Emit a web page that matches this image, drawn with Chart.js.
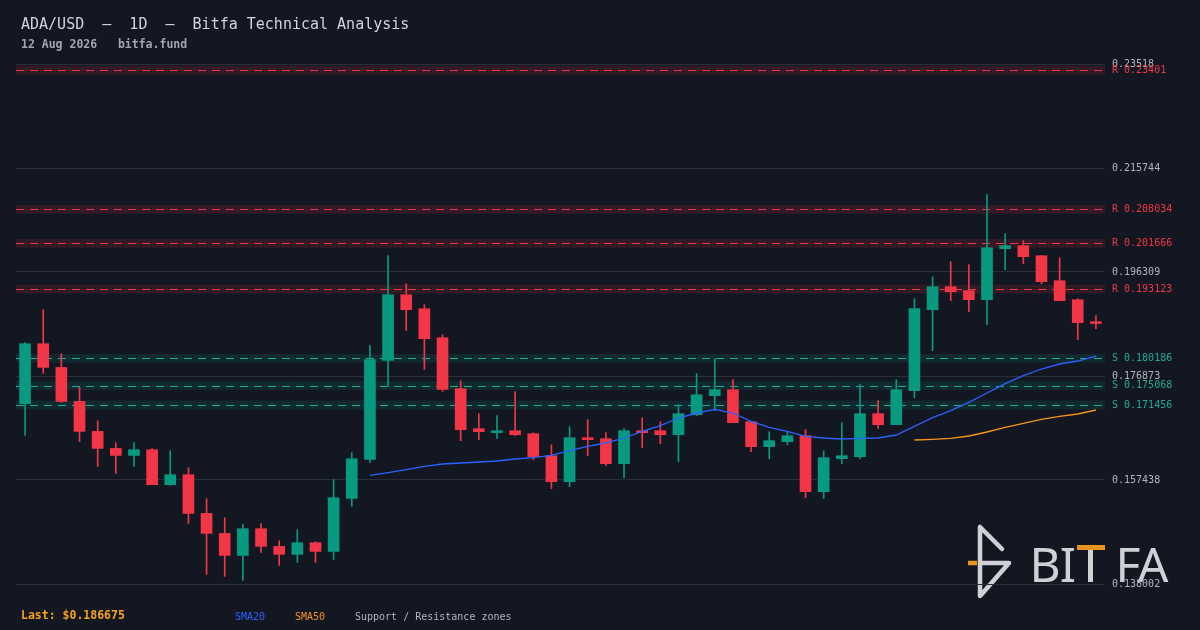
<!DOCTYPE html>
<html>
<head>
<meta charset="utf-8">
<script src="https://cdn.jsdelivr.net/npm/chart.js@4.4.1/dist/chart.umd.min.js"></script>
<style>
  body { margin: 0; background: #131722; }
  #wrap { position: relative; width: 1200px; height: 630px; overflow: hidden; }
  #chart { position: absolute; left: 0; top: 0; }
  .txt { position: absolute; font-family: "DejaVu Sans Mono", monospace; white-space: pre; }
  .title { left: 21px; top: 15px; font-size: 15px; line-height: 18px; color: #d1d4dc; }
  .sub { left: 21px; top: 37px; font-size: 11.5px; line-height: 14px; color: #a3a6af; font-weight: bold; }
  .last { left: 21px; top: 608px; font-size: 11.5px; line-height: 14px; color: #f7a21b; font-weight: bold; }
  .leg { top: 611px; font-size: 10px; line-height: 12px; }
</style>
</head>
<body>
<div id="wrap">
  <canvas id="chart" width="1200" height="630"></canvas>
  <div class="txt title">ADA/USD  –  1D  –  Bitfa Technical Analysis</div>
  <div class="txt sub">12 Aug 2026   bitfa.fund</div>
  <div class="txt last" id="last"></div>
  <div class="txt leg" style="left:235px;color:#2962ff">SMA20</div>
  <div class="txt leg" style="left:295px;color:#f7931a">SMA50</div>
  <div class="txt leg" style="left:355px;color:#b2b5be">Support / Resistance zones</div>
</div>
<script>
// daily candles, 14 Jun -> 12 Aug 2026
const dates = [
  "06-14","06-15","06-16","06-17","06-18","06-19","06-20","06-21","06-22","06-23",
  "06-24","06-25","06-26","06-27","06-28","06-29","06-30","07-01","07-02","07-03",
  "07-04","07-05","07-06","07-07","07-08","07-09","07-10","07-11","07-12","07-13",
  "07-14","07-15","07-16","07-17","07-18","07-19","07-20","07-21","07-22","07-23",
  "07-24","07-25","07-26","07-27","07-28","07-29","07-30","07-31","08-01","08-02",
  "08-03","08-04","08-05","08-06","08-07","08-08","08-09","08-10","08-11","08-12"
];

const opens = [
  0.171696, 0.182909, 0.178480, 0.172126, 0.166520, 0.163343, 0.162035, 0.163100, 0.156559, 0.158428,
  0.151196, 0.147458, 0.143347, 0.148336, 0.145029, 0.143534, 0.145720, 0.144095, 0.153999, 0.161287,
  0.179788, 0.192066, 0.189450, 0.184031, 0.174500, 0.167024, 0.166277, 0.166651, 0.166090, 0.161979,
  0.157120, 0.165343, 0.165156, 0.160484, 0.166651, 0.166651, 0.165903, 0.169641, 0.173192, 0.174313,
  0.168333, 0.163661, 0.164595, 0.165716, 0.155251, 0.161418, 0.161792, 0.169828, 0.167772, 0.174126,
  0.189263, 0.193561, 0.192814, 0.191132, 0.200663, 0.201224, 0.199355, 0.194683, 0.191132, 0.187021
];
const highs = [
  0.183096, 0.189263, 0.181040, 0.174743, 0.168519, 0.164408, 0.164408, 0.163287, 0.162913, 0.159736,
  0.153943, 0.150392, 0.149084, 0.149271, 0.146094, 0.148150, 0.145907, 0.157494, 0.162539, 0.182536,
  0.199355, 0.194122, 0.190198, 0.184591, 0.175995, 0.169828, 0.169454, 0.173939, 0.166277, 0.164034,
  0.167398, 0.168706, 0.166277, 0.167024, 0.169080, 0.168333, 0.171510, 0.177303, 0.180106, 0.176182,
  0.168333, 0.166464, 0.166464, 0.166838, 0.162913, 0.168146, 0.175247, 0.172257, 0.176182, 0.191319,
  0.195430, 0.198233, 0.197673, 0.210754, 0.203466, 0.202158, 0.199355, 0.198981, 0.191319, 0.188142
];
const lows = [
  0.165772, 0.177359, 0.171939, 0.164651, 0.159979, 0.158671, 0.159979, 0.156559, 0.156428, 0.149327,
  0.139797, 0.139423, 0.138675, 0.143908, 0.141478, 0.142039, 0.142039, 0.142600, 0.152504, 0.160727,
  0.174930, 0.185395, 0.178107, 0.173995, 0.164782, 0.164969, 0.165156, 0.165716, 0.161231, 0.155812,
  0.156185, 0.161979, 0.160110, 0.157867, 0.163474, 0.164221, 0.160857, 0.169454, 0.170388, 0.168146,
  0.162726, 0.161418, 0.164034, 0.154130, 0.153943, 0.160484, 0.161418, 0.167024, 0.167772, 0.172818,
  0.181601, 0.190945, 0.188889, 0.186460, 0.196738, 0.197860, 0.194122, 0.190945, 0.183657, 0.185712
];
const closes = [
  0.182909, 0.178480, 0.172126, 0.166520, 0.163343, 0.162035, 0.163100, 0.156559, 0.158428, 0.151196,
  0.147458, 0.143347, 0.148336, 0.145029, 0.143534, 0.145720, 0.144095, 0.154130, 0.161418, 0.179919,
  0.192066, 0.189263, 0.183844, 0.174369, 0.166838, 0.166464, 0.166651, 0.165903, 0.161792, 0.157120,
  0.165343, 0.164969, 0.160484, 0.166651, 0.166277, 0.165903, 0.169828, 0.173378, 0.174313, 0.168146,
  0.163661, 0.164782, 0.165716, 0.155251, 0.161605, 0.161979, 0.169828, 0.167772, 0.174313, 0.189450,
  0.193561, 0.192627, 0.191132, 0.200850, 0.201224, 0.199168, 0.194496, 0.190945, 0.186834, 0.186675
];

// moving averages as drawn (first value sits on candle sma20Start / sma50Start)
const sma20Start = 19;
const sma20 = [
  0.158297, 0.158802, 0.159362, 0.159979, 0.160427, 0.160614, 0.160801, 0.160988, 0.161362, 0.161605,
  0.162035, 0.162913, 0.163717, 0.164352, 0.165286, 0.166520, 0.167585, 0.169023, 0.169958, 0.170631,
  0.169958, 0.168388, 0.167267, 0.166520, 0.165585, 0.165286, 0.165100, 0.165212, 0.165286, 0.165847,
  0.167454, 0.169080, 0.170388, 0.171939, 0.173696, 0.175434, 0.176929, 0.178181, 0.179115, 0.179676,
  0.180610
];
const sma50Start = 49;
const sma50 = [
  0.164913, 0.165025, 0.165212, 0.165660, 0.166408, 0.167267, 0.168015, 0.168762, 0.169323, 0.169771,
  0.170519
];

const resistance = [0.23401, 0.208034, 0.201666, 0.193123];
const support = [0.180186, 0.175068, 0.171456];
const ZONE_PAD = 0.00082;

const yTicks = [0.138002, 0.157438, 0.176873, 0.196309, 0.215744, 0.23518];

const UP = "#089981";
const DOWN = "#f23645";
const candleColors = closes.map((c, i) => (c >= opens[i] ? UP : DOWN));

document.getElementById("last").textContent = "Last: $" + closes[closes.length - 1].toFixed(6);

Chart.defaults.font.family = "'DejaVu Sans Mono', monospace";

const overlay = {
  id: "overlay",
  beforeDraw(chart) {
    const ctx = chart.ctx;
    ctx.save();
    ctx.fillStyle = "#131722";
    ctx.fillRect(0, 0, chart.width, chart.height);

    // watermark logo
    ctx.strokeStyle = "#cfd1d6";
    ctx.lineWidth = 4.5;
    ctx.lineCap = "round";
    ctx.lineJoin = "round";
    ctx.beginPath();
    ctx.moveTo(980, 527); ctx.lineTo(980, 596);
    ctx.moveTo(980, 527); ctx.lineTo(1002, 549);
    ctx.moveTo(980, 563); ctx.lineTo(1009, 563); ctx.lineTo(981, 595);
    ctx.stroke();
    ctx.strokeStyle = "#e8931c";
    ctx.lineCap = "butt";
    ctx.beginPath();
    ctx.moveTo(968, 563); ctx.lineTo(977, 563);
    ctx.stroke();

    ctx.fillStyle = "#cfd1d6";
    ctx.font = "48px 'Noto Sans'";
    ctx.textAlign = "center";
    ctx.textBaseline = "alphabetic";
    ctx.fillText("B", 1045, 582);
    ctx.fillText("I", 1068, 582);
    ctx.fillText("F", 1128, 582);
    ctx.fillText("A", 1153, 582);
    ctx.fillRect(1088, 550, 5, 32);
    ctx.fillStyle = "#e8931c";
    ctx.fillRect(1077, 545, 28, 5);
    ctx.restore();
  },
  beforeDatasetsDraw(chart) {
    const { ctx, chartArea, scales } = chart;
    const y = scales.y;
    ctx.save();
    ctx.beginPath();
    ctx.rect(chartArea.left, chartArea.top, chartArea.right - chartArea.left, chartArea.bottom - chartArea.top);
    ctx.clip();
    const drawZone = (v, fill, line) => {
      const top = y.getPixelForValue(v + ZONE_PAD);
      const bot = y.getPixelForValue(v - ZONE_PAD);
      ctx.fillStyle = fill;
      ctx.fillRect(chartArea.left, top, chartArea.right - chartArea.left, bot - top);
      const py = Math.round(y.getPixelForValue(v)) + 0.5;
      ctx.strokeStyle = line;
      ctx.lineWidth = 1.2;
      ctx.setLineDash([8, 6]);
      ctx.beginPath();
      ctx.moveTo(chartArea.left, py);
      ctx.lineTo(chartArea.right, py);
      ctx.stroke();
    };
    resistance.forEach(v => drawZone(v, "rgba(242, 54, 69, 0.14)", "#f23645"));
    support.forEach(v => drawZone(v, "rgba(8, 153, 129, 0.15)", "#22ab94"));
    ctx.restore();
  },
  afterDraw(chart) {
    const { ctx, chartArea, scales } = chart;
    ctx.save();
    ctx.font = "10px 'DejaVu Sans Mono'";
    ctx.textAlign = "left";
    ctx.textBaseline = "middle";
    const x = chartArea.right + 7;
    ctx.fillStyle = "#f23645";
    resistance.forEach(v => ctx.fillText("R " + String(v), x, scales.y.getPixelForValue(v)));
    ctx.fillStyle = "#22ab94";
    support.forEach(v => ctx.fillText("S " + String(v), x, scales.y.getPixelForValue(v)));
    ctx.restore();
  }
};

new Chart(document.getElementById("chart"), {
  type: "bar",
  data: {
    labels: dates,
    datasets: [
      {
        type: "line",
        label: "SMA20",
        data: sma20.map((v, i) => ({ x: dates[sma20Start + i], y: v })),
        borderColor: "#2962ff",
        borderWidth: 1.3,
        pointRadius: 0,
        tension: 0,
        order: 0
      },
      {
        type: "line",
        label: "SMA50",
        data: sma50.map((v, i) => ({ x: dates[sma50Start + i], y: v })),
        borderColor: "#f7931a",
        borderWidth: 1.3,
        pointRadius: 0,
        tension: 0,
        order: 0
      },
      {
        label: "body",
        data: opens.map((o, i) => [o, closes[i]]),
        backgroundColor: candleColors,
        barThickness: 11,
        minBarLength: 1,
        grouped: false,
        order: 1
      },
      {
        label: "wick",
        data: lows.map((l, i) => [l, highs[i]]),
        backgroundColor: candleColors,
        barThickness: 1,
        grouped: false,
        order: 2
      }
    ]
  },
  options: {
    responsive: false,
    animation: false,
    layout: { padding: { left: 16, top: 64, bottom: 46, right: 0 } },
    plugins: { legend: { display: false }, tooltip: { enabled: false } },
    scales: {
      x: { type: "category", offset: true, display: false },
      y: {
        position: "right",
        min: yTicks[0],
        max: yTicks[yTicks.length - 1],
        afterBuildTicks: scale => { scale.ticks = yTicks.map(v => ({ value: v })); },
        afterFit: scale => { scale.width = 95; },
        border: { display: false },
        grid: { color: "#2a2e39", drawTicks: false },
        ticks: {
          padding: 7,
          color: "#b2b5be",
          font: { size: 10 },
          callback: (v, i) => String(yTicks[i])
        }
      }
    }
  },
  plugins: [overlay]
});
</script>
</body>
</html>
